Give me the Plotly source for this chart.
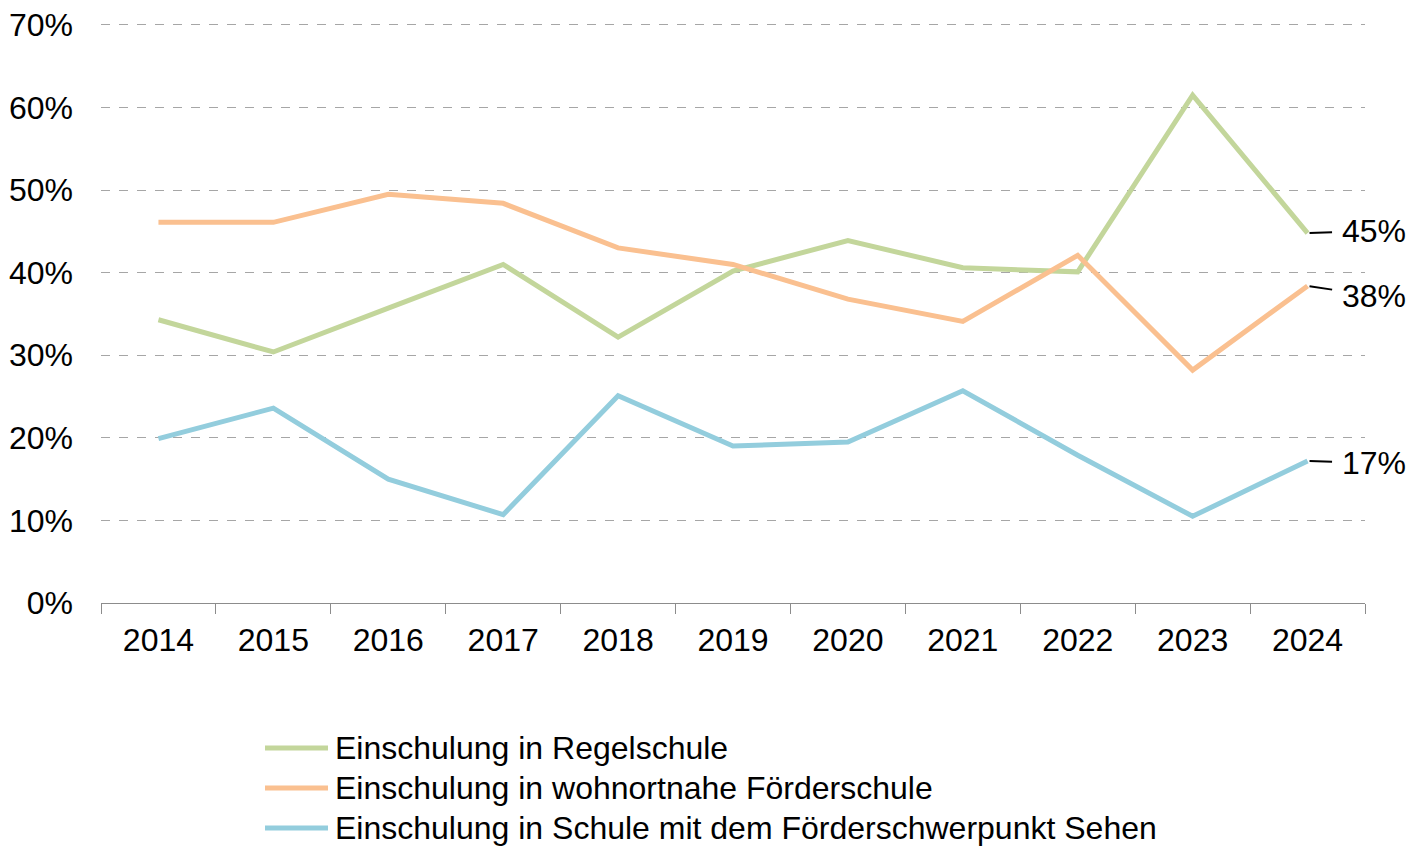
import plotly.graph_objects as go

years = ["2014", "2015", "2016", "2017", "2018", "2019", "2020", "2021", "2022", "2023", "2024"]

regelschule = [34.3, 30.4, 35.7, 41.0, 32.2, 40.2, 43.9, 40.6, 40.1, 61.5, 44.8]
wohnortnahe_foerderschule = [46.1, 46.1, 49.5, 48.4, 43.0, 41.0, 36.8, 34.1, 42.1, 28.2, 38.4]
foerderschwerpunkt_sehen = [19.9, 23.6, 15.0, 10.7, 25.1, 19.0, 19.5, 25.7, 17.9, 10.5, 17.2]

y_ticks = [0, 10, 20, 30, 40, 50, 60, 70]
y_tick_labels = ["0%", "10%", "20%", "30%", "40%", "50%", "60%", "70%"]

series_names = [
    "Einschulung in Regelschule",
    "Einschulung in wohnortnahe Förderschule",
    "Einschulung in Schule mit dem Förderschwerpunkt Sehen",
]
series_colors = ["#C3D69B", "#FAC090", "#93CDDD"]
end_labels = ["45%", "38%", "17%"]

FONT = "Liberation Sans, Arial, sans-serif"
FS = 32

W, H = 1424, 846
ML, MR, MT, MB = 101, 59, 21, 243
PW, PH = W - ML - MR, H - MT - MB
Y_TOP = 70.48  # a little headroom so the 70% gridline is drawn


def px_x(px):
    return (px - ML) / PW


def px_y(py):
    return (H - MB - py) / PH


all_series = [regelschule, wohnortnahe_foerderschule, foerderschwerpunkt_sehen]

fig = go.Figure()
for name, vals, color in zip(series_names, all_series, series_colors):
    fig.add_trace(go.Scatter(
        x=years, y=vals, name=name, mode="lines",
        line=dict(color=color, width=5),
        showlegend=False,
    ))

# Value labels at the last year with short leader lines
# (annotation x on a category axis is the category index)
last_idx = len(years) - 1
label_ay = [-2, 10, 2]
for vals, text, ay in zip(all_series, end_labels, label_ay):
    fig.add_annotation(
        xref="x", yref="y", x=last_idx, y=vals[-1], text=text,
        showarrow=True, arrowhead=0, arrowwidth=2, arrowcolor="black",
        ax=66, ay=ay, standoff=2, startstandoff=8,
        font=dict(family=FONT, size=FS, color="black"),
    )

# Legend below the chart: coloured line swatch + series name
legend_rows = [748, 788, 828]
for name, color, row in zip(series_names, series_colors, legend_rows):
    fig.add_shape(
        type="line", xref="paper", yref="paper",
        x0=px_x(265), x1=px_x(328), y0=px_y(row), y1=px_y(row),
        line=dict(color=color, width=5), layer="above",
    )
    fig.add_annotation(
        xref="paper", yref="paper", x=px_x(333), y=px_y(row),
        xanchor="left", yanchor="middle", showarrow=False, text=name,
        font=dict(family=FONT, size=FS, color="black"),
    )

fig.update_layout(
    width=W, height=H,
    margin=dict(l=ML, r=MR, t=MT, b=MB, autoexpand=False),
    paper_bgcolor="white", plot_bgcolor="white",
    font=dict(family=FONT, size=FS, color="black"),
    showlegend=False,
)

fig.update_xaxes(
    type="category", range=[-0.5, 10.5], automargin=False,
    showline=True, linecolor="#8C8C8C", linewidth=1.3,
    ticks="outside", tickson="boundaries", ticklen=10, tickcolor="#8C8C8C", tickwidth=1.3,
    showgrid=False, tickfont=dict(family=FONT, size=FS, color="black"),
    zeroline=False, ticklabelstandoff=8,
)
fig.update_yaxes(
    range=[0, Y_TOP], tickmode="array", tickvals=y_ticks, ticktext=y_tick_labels,
    automargin=False,
    showline=False, ticks="",
    showgrid=True, gridcolor="#A6A6A6", gridwidth=1, griddash="dash",
    zeroline=False, ticklabelstandoff=27,
    tickfont=dict(family=FONT, size=FS, color="black"),
)

fig.write_html("out.html")
